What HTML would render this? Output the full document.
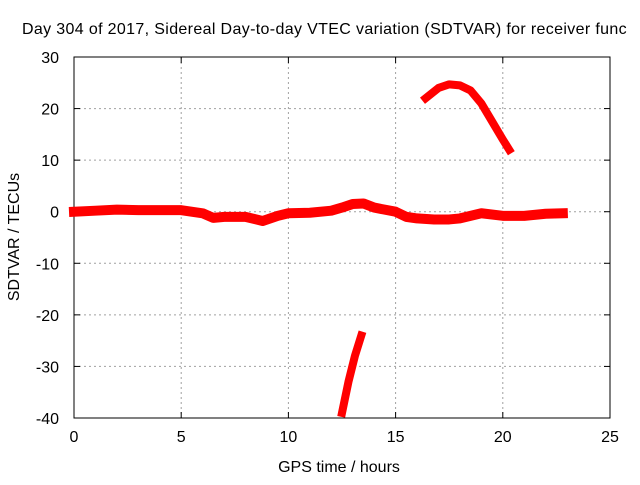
<!DOCTYPE html>
<html><head><meta charset="utf-8"><style>
body{margin:0;background:#fff;overflow:hidden}
svg{font-family:"Liberation Sans",sans-serif;font-size:16px}
</style></head><body>
<svg id="chart" width="640" height="480" xmlns="http://www.w3.org/2000/svg">
<text x="22" y="34" letter-spacing="0.35">Day 304 of 2017, Sidereal Day-to-day VTEC variation (SDTVAR) for receiver func</text>
<g id="grid"></g>
<g id="axes"></g>
<g id="series"></g>
<text x="339" y="472" text-anchor="middle">GPS time / hours</text>
<text transform="translate(19,237) rotate(-90)" text-anchor="middle">SDTVAR / TECUs</text>
</svg>
<script>
const xTicks=[0,5,10,15,20,25];
const yTicks=[30,20,10,0,-10,-20,-30,-40];
const mainHours=[0,1,2,3,4,5,6,6.5,7,8,8.8,9.5,10,11,12,12.5,13,13.5,14,15,15.5,16,16.8,17.5,18,19,20,21,22,22.8];
const mainValues=[0,0.2,0.4,0.3,0.3,0.3,-0.3,-1.2,-1,-1,-1.8,-0.8,-0.3,-0.2,0.2,0.8,1.5,1.6,0.8,0,-1,-1.3,-1.5,-1.5,-1.3,-0.3,-0.8,-0.8,-0.4,-0.3];
const arcHours=[16.4,17,17.5,18,18.5,19,19.5,20,20.3];
const arcValues=[22,24,24.7,24.5,23.5,21,17.5,14,12];
const dropHours=[12.5,12.8,13.1,13.4];
const dropValues=[-39,-33,-28,-24];
const NS="http://www.w3.org/2000/svg";
const L=74,R=610,T=57,B=418;
const sx=v=>L+(v-0)/25*(R-L);
const sy=v=>T+(30-v)/70*(B-T);
function mk(tag,attrs,parent){const e=document.createElementNS(NS,tag);for(const k in attrs)e.setAttribute(k,attrs[k]);parent.appendChild(e);return e;}
const grid=document.getElementById('grid'),axes=document.getElementById('axes'),series=document.getElementById('series');
xTicks.forEach(t=>{
 if(t>0&&t<25){const g=mk('line',{x1:sx(t),x2:sx(t),y1:T,y2:B,stroke:'#a0a0a0','stroke-dasharray':'2,3'},grid);
 
 }
 mk('line',{x1:sx(t),x2:sx(t),y1:B,y2:B-6,stroke:'#000'},axes);
 mk('line',{x1:sx(t),x2:sx(t),y1:T,y2:T+6,stroke:'#000'},axes);
 const tx=mk('text',{x:sx(t),y:B+24,'text-anchor':'middle'},axes);tx.textContent=t;
 
 
});
yTicks.forEach(t=>{
 if(t<30&&t>-40){const g=mk('line',{x1:L,x2:R,y1:sy(t),y2:sy(t),stroke:'#a0a0a0','stroke-dasharray':'2,3'},grid);
 
 }
 mk('line',{x1:L,x2:L+6,y1:sy(t),y2:sy(t),stroke:'#000'},axes);
 mk('line',{x1:R,x2:R-6,y1:sy(t),y2:sy(t),stroke:'#000'},axes);
 const tx=mk('text',{x:L-15,y:sy(t)+6,'text-anchor':'end'},axes);tx.textContent=t;
 
 
});
const frame=mk('rect',{x:L,y:T,width:R-L,height:B-T,fill:'none',stroke:'#000'},axes);


function line(xs,ys,name,w){const p=mk('polyline',{points:xs.map((x,i)=>sx(x)+','+sy(ys[i])).join(' '),fill:'none',stroke:'#ff0000','stroke-width':w,'stroke-linejoin':'round','stroke-linecap':'square'},series);
 
 }
line(mainHours,mainValues,'main-series',10);
line(arcHours,arcValues,'arc-series',8);
line(dropHours,dropValues,'drop-series',8);
</script>
</body></html>
